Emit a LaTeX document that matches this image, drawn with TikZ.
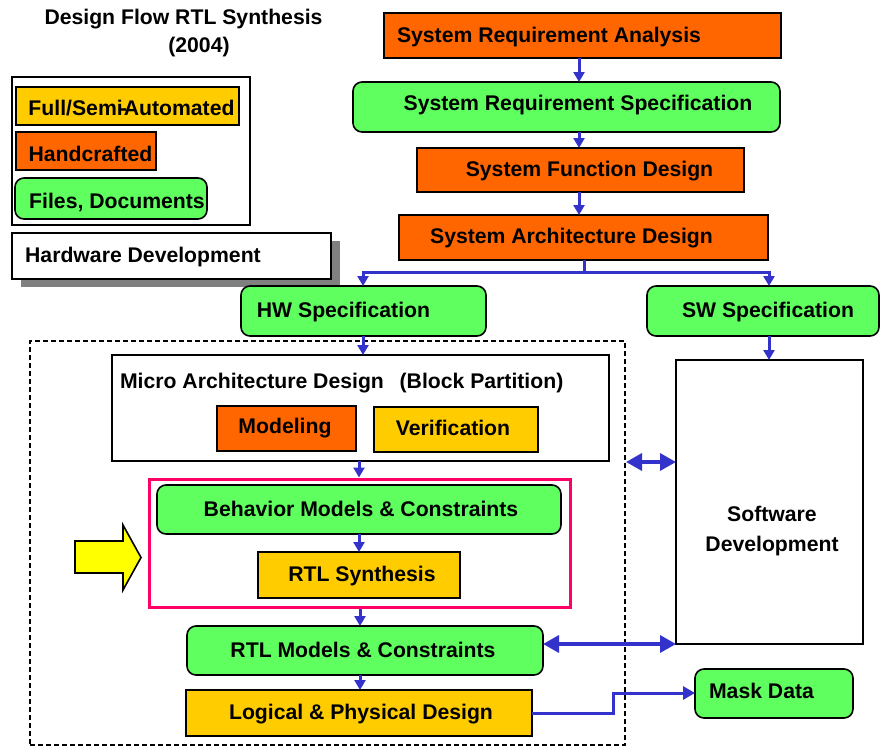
\documentclass[tikz,border=0pt]{standalone}
\usepackage{fontspec}
\setmainfont{Liberation Sans}
\usetikzlibrary{arrows.meta,shadows,calc}
\definecolor{cOrange}{HTML}{FF6600}
\definecolor{cYellow}{HTML}{FFCC00}
\definecolor{cGreen}{HTML}{5EFF5E}
\definecolor{cBlue}{HTML}{3333CC}
\definecolor{cPink}{HTML}{FF0066}
\definecolor{cArrow}{HTML}{FFFF00}
\begin{document}
\begin{tikzpicture}[x=1pt,y=-1pt, font=\bfseries\fontsize{21.2}{25}\selectfont,
 box/.style={draw=black, line width=1.6pt, inner sep=0pt, outer sep=0pt},
 handbox/.style={box, fill=cOrange},
 autobox/.style={box, fill=cYellow},
 docbox/.style={box, fill=cGreen, rounded corners=9pt},
 plainbox/.style={box, fill=white},
 txt/.style={inner sep=0pt},
 lb/.style={inner sep=0pt, text height=15.4pt, text depth=4.5pt},
 flow/.style={draw=cBlue, line width=3pt, line join=miter},
 arr/.style={flow, -{Triangle[length=10pt,width=11pt]}},
 darr/.style={flow, line width=3.5pt, {Triangle[length=16pt,width=17pt]}-{Triangle[length=16pt,width=17pt]}},
]
\useasboundingbox (0,0) rectangle (881,747);

% title
\node[txt] (title) at (183.5,19.5) {Design Flow RTL Synthesis};
\node[txt] (year) at (199,47.5) {(2004)};

% legend
\node[box, minimum width=238pt, minimum height=148pt] (legend) at (131,151) {};
\node[autobox, minimum width=223pt, minimum height=38pt, label={[lb, xshift=4pt, yshift=-3.65pt]center:{Full/Semi\kern-3pt-\kern-3pt Automated}}] (lgA) at (127.5,106) {};
\node[handbox, minimum width=140pt, minimum height=38pt, label={[lb, xshift=4.5pt, yshift=-5.15pt]center:Handcrafted}] (lgH) at (86,151) {};
\node[docbox, minimum width=192pt, minimum height=41pt, label={[lb, xshift=6pt, yshift=-4.15pt]center:{Files, Documents}}] (lgD) at (111,198.5) {};
\node[plainbox, minimum width=319pt, minimum height=46pt, general shadow={fill=black!50, shadow xshift=9pt, shadow yshift=-8pt}, label={[lb, xshift=-28.5pt, yshift=-0.65pt]center:Hardware Development}] (hwdev) at (171.5,256) {};

% system flow
\node[handbox, minimum width=397pt, minimum height=45pt, label={[lb, xshift=-33.5pt, yshift=-1.65pt]center:System Requirement Analysis}] (sra) at (582.5,35.5) {};
\node[docbox, minimum width=427pt, minimum height=50pt, label={[lb, xshift=11.5pt, yshift=2.35pt]center:System Requirement Specification}] (srs) at (566.5,107) {};
\node[handbox, minimum width=327pt, minimum height=44pt, label={[lb, xshift=9pt, yshift=-0.65pt]center:System Function Design}] (sfd) at (580.5,170) {};
\node[handbox, minimum width=369pt, minimum height=45pt, label={[lb, xshift=-12pt, yshift=-0.15pt]center:System Architecture Design}] (sad) at (583.5,237.5) {};
\node[docbox, minimum width=245pt, minimum height=50pt, label={[lb, xshift=-20pt, yshift=-0.65pt]center:HW Specification}] (hws) at (363.5,311) {};
\node[docbox, minimum width=232pt, minimum height=50pt, label={[lb, xshift=5pt, yshift=-0.65pt]center:SW Specification}] (sws) at (763,311) {};

% hardware region
\node[draw, line width=2pt, dash pattern=on 5pt off 3pt, minimum width=595pt, minimum height=404pt, inner sep=0pt] (hwbox) at (327.5,543) {};
\node[plainbox, minimum width=497pt, minimum height=106pt] (micro) at (360.5,408) {};
\node[txt] (microT) at (252,383) {Micro Architecture Design};
\node[txt] (bpT) at (481.5,383) {(Block Partition)};
\node[handbox, minimum width=139pt, minimum height=45pt, label={[lb, xshift=-1.5pt, yshift=0.35pt]center:Modeling}] (model) at (286.5,428.5) {};
\node[autobox, minimum width=164pt, minimum height=45pt, label={[lb, xshift=-3pt, yshift=-0.15pt]center:Verification}] (verif) at (456,429.5) {};

\node[draw=cPink, line width=3pt, minimum width=421pt, minimum height=128pt, inner sep=0pt] (pink) at (359.5,543) {};
\node[docbox, minimum width=404pt, minimum height=49pt, label={[lb, xshift=2pt, yshift=-1.15pt]center:Behavior Models \& Constraints}] (bmc) at (359,509.5) {};
\node[autobox, minimum width=202pt, minimum height=46pt, label={[lb, xshift=3pt, yshift=-1.15pt]center:RTL Synthesis}] (rtls) at (359,575) {};
\node[docbox, minimum width=356pt, minimum height=49pt, label={[lb, xshift=-2pt, yshift=-1.15pt]center:RTL Models \& Constraints}] (rtlm) at (365,650.5) {};
\node[autobox, minimum width=346pt, minimum height=46pt, label={[lb, xshift=2pt, yshift=-0.65pt]center:Logical \& Physical Design}] (lpd) at (359,713) {};
\node[docbox, minimum width=158pt, minimum height=49pt, label={[lb, xshift=-12.5pt, yshift=0.85pt]center:Mask Data}] (mask) at (774,693.5) {};
\node[plainbox, minimum width=187pt, minimum height=284pt, label={[lb, xshift=2.5pt, yshift=-14.15pt]center:Software}, label={[lb, xshift=2.5pt, yshift=-44.15pt]center:Development}] (swdev) at (769.5,502) {};

% big yellow arrow
\draw[fill=cArrow, line width=1.6pt, line join=miter] (75,541) -- (123,541) -- (123,525) -- (141,557.5) -- (123,590) -- (123,573) -- (75,573) -- cycle;

% connectors
\coordinate (xA) at (579,0);
\draw[arr] (sra.south -| xA) -- (srs.north -| xA);
\draw[arr] (srs.south -| xA) -- (sfd.north -| xA);
\draw[arr] (sfd.south -| xA) -- (sad.north -| xA);
\coordinate (jn) at (584,272);
\coordinate (xHW) at (363,0);
\coordinate (xSW) at (769,0);
\draw[flow] (sad.south -| jn) -- (jn);
\draw[arr] (jn) -| (hws.north -| xHW);
\draw[arr] (jn) -| (sws.north -| xSW);
\draw[arr] (hws.south -| xHW) -- (micro.north -| xHW);
\draw[arr] (sws.south -| xSW) -- (swdev.north -| xSW);
\coordinate (xC) at (359,0);
\draw[arr] (micro.south -| xC) -- (pink.north -| xC);
\draw[arr] (bmc.south -| xC) -- (rtls.north -| xC);
\coordinate (xD) at (360,0);
\draw[arr] (pink.south -| xD) -- (rtlm.north -| xD);
\draw[arr] (rtlm.south -| xD) -- (lpd.north -| xD);
\coordinate (bend) at (613,693);
\draw[flow, -{Triangle[length=12pt,width=13pt]}] (lpd.east) -| (bend) -- (mask.west |- bend);
\coordinate (yU) at (0,462);
\draw[darr] (hwbox.east |- yU) -- (swdev.west |- yU);
\coordinate (yL) at (0,644);
\draw[darr] (rtlm.east |- yL) -- (swdev.west |- yL);
\end{tikzpicture}
\end{document}
